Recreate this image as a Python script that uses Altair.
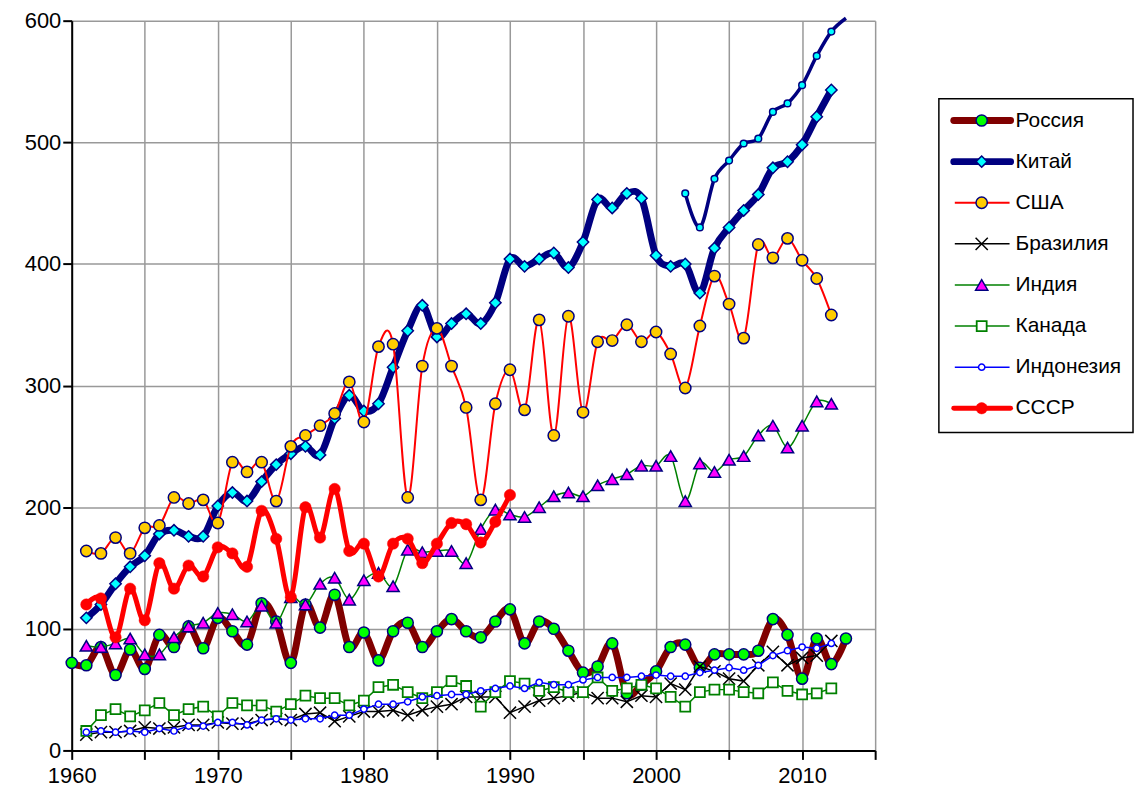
import altair as alt
import pandas as pd

# ---------------- data ----------------
years_russia = list(range(1960, 2014))
russia = [72, 70, 85, 62, 83, 67, 95, 85, 102, 84,
          109, 98, 87, 121, 106, 72, 120, 101, 128, 85,
          97, 74, 98, 105, 85, 98, 108, 98, 93, 106,
          116, 88, 106, 100, 82, 64, 69, 88, 47, 54,
          65, 85, 87, 68, 79, 79, 79, 82, 108, 95,
          59, 92, 71, 92]

years_main = list(range(1961, 2013))
china = [109, 120, 137, 151, 160, 178, 181, 176, 176,
         201, 212, 205, 221, 235, 244, 250, 243, 273, 292,
         279, 285, 315, 345, 366, 340, 351, 359, 351, 368,
         404, 398, 404, 409, 397, 418, 453, 446, 458, 454,
         407, 398, 400, 376, 413, 430, 444, 457, 479, 484,
         498, 521, 543]
usa = [164, 162, 175, 162, 183, 185, 208, 203, 206,
       187, 237, 229, 237, 205, 250, 259, 267, 277, 303,
       270, 332, 334, 208, 316, 347, 316, 282, 206, 285,
       313, 280, 354, 259, 357, 278, 336, 337, 350, 336,
       344, 326, 298, 349, 390, 367, 339, 416, 405, 421,
       403, 388, 358]
brazil = [13, 15, 15, 16, 19, 18, 19, 21, 21,
          23, 22, 22, 25, 26, 25, 30, 31, 24, 28,
          32, 32, 33, 29, 33, 36, 38, 44, 44, 44,
          31, 36, 41, 43, 45, 48, 43, 43, 40, 45,
          44, 55, 50, 69, 65, 59, 57, 70, 81, 70,
          76, 78, 90]
india = [86, 85, 88, 92, 79, 79, 93, 102, 105,
         113, 112, 106, 119, 105, 126, 120, 137, 142, 124,
         140, 146, 135, 165, 163, 164, 164, 154, 182, 198,
         194, 192, 200, 209, 212, 209, 218, 223, 227, 234,
         234, 242, 205, 236, 229, 239, 242, 259, 267, 249,
         267, 287, 285]
canada = [16, 29, 34, 28, 33, 39, 29, 34, 36,
          28, 39, 37, 37, 32, 38, 45, 43, 43, 37,
          41, 52, 54, 48, 43, 48, 57, 53, 36, 48,
          57, 55, 49, 52, 48, 48, 60, 49, 51, 54,
          51, 44, 36, 48, 50, 50, 48, 47, 56, 49,
          46, 47, 51]
indonesia = [15, 16, 15, 16, 15, 18, 16, 20, 20,
             23, 23, 21, 25, 26, 25, 26, 26, 29, 29,
             34, 38, 38, 40, 44, 45, 46, 46, 49, 51,
             53, 51, 56, 54, 54, 58, 60, 60, 60, 61,
             62, 61, 61, 64, 66, 68, 66, 70, 78, 82,
             85, 84, 88]

years_ussr = list(range(1961, 1991))
ussr = [120, 125, 93, 133, 107, 154, 133, 152, 143,
        167, 162, 151, 197, 174, 126, 200, 175, 215, 164,
        170, 143, 170, 174, 154, 170, 187, 186, 171, 188,
        210]

years_china2 = list(range(2002, 2014))
china2 = [458, 430, 470, 485, 499, 503, 525, 532, 547, 571, 591, 602]

series_names = ["Россия", "Китай", "США", "Бразилия", "Индия",
                "Канада", "Индонезия", "СССР"]
extra_name = "Китай (2)"

series_data = {
    "Россия": (years_russia, russia),
    "Китай": (years_main, china),
    "США": (years_main, usa),
    "Бразилия": (years_main, brazil),
    "Индия": (years_main, india),
    "Канада": (years_main, canada),
    "Индонезия": (years_main, indonesia),
    "СССР": (years_ussr, ussr),
    extra_name: (years_china2, china2),
}

rows = []
for name, (yrs, vals) in series_data.items():
    for y, v in zip(yrs, vals):
        rows.append({"series": name, "year": y, "value": v})
df = pd.DataFrame(rows)

Y_MAX = 600

# ---------------- styles ----------------
NAVY = "#000080"
X_PATH = "M-1,-1L1,1M-1,1L1,-1"
styles = {
    "Россия":    dict(lc="#800000", lw=7,   interp="cardinal", shape="circle", size=125, fill="#00ff00", stroke=NAVY, sw=1.5),
    "Китай":     dict(lc=NAVY,      lw=7,   interp="cardinal", shape="diamond", size=130, fill="#00ffff", stroke=NAVY, sw=1.5),
    "США":       dict(lc="#ff0000", lw=2,   interp="cardinal", shape="circle", size=130, fill="#ffcc00", stroke=NAVY, sw=1.5),
    "Бразилия":  dict(lc="#000000", lw=1.5, interp="linear",   shape=X_PATH,   size=150, fill=None,      stroke="#000000", sw=1.5),
    "Индия":     dict(lc="#008000", lw=1.5, interp="cardinal", shape="triangle-up", size=150, fill="#ff00ff", stroke=NAVY, sw=1.5),
    "Канада":    dict(lc="#008000", lw=1.5, interp="linear",   shape="square", size=100, fill="#ffffff", stroke="#008000", sw=1.8),
    "Индонезия": dict(lc="#0000ff", lw=1.5, interp="linear",   shape="circle", size=40,  fill="#ffffff", stroke="#0000ff", sw=1.5),
    "СССР":      dict(lc="#ff0000", lw=5,   interp="cardinal", shape="circle", size=130, fill="#ff0000", stroke="#ff0000", sw=0.5),
    extra_name:  dict(lc=NAVY,      lw=3.5, interp="cardinal", shape="circle", size=45,  fill="#00ffff", stroke=NAVY, sw=1.5),
}

FONT = "Liberation Sans"

X = alt.X("year:Q",
          scale=alt.Scale(domain=[1960, 2015], nice=False, zero=False),
          axis=alt.Axis(values=list(range(1960, 2016, 5)), format="d",
                        labelExpr="datum.value % 10 === 0 ? datum.label : ''",
                        title=None, labelOverlap=False, labelFlush=False,
                        labelPadding=6))
Y = alt.Y("value:Q",
          scale=alt.Scale(domain=[0, Y_MAX], nice=False, zero=True),
          axis=alt.Axis(values=list(range(0, 601, 100)), title=None,
                        labelOverlap=False, labelFlush=False, labelPadding=2))


def point_mark(st):
    kw = dict(shape=st["shape"], size=st["size"], stroke=st["stroke"],
              strokeWidth=st["sw"], opacity=1)
    if st["fill"] is None:
        kw["filled"] = False
        kw["fill"] = "transparent"
    else:
        kw["filled"] = True
        kw["fill"] = st["fill"]
    return kw


main_layers = []
for name in series_names + [extra_name]:
    st = styles[name]
    base = alt.Chart(df).transform_filter(alt.datum.series == name)
    main_layers.append(
        base.mark_line(color=st["lc"], strokeWidth=st["lw"],
                       interpolate=st["interp"]).encode(x=X, y=Y))
    # markers outside the plot area are not drawn (as in the original)
    main_layers.append(
        base.transform_filter(alt.datum.value <= Y_MAX)
        .mark_point(**point_mark(st)).encode(x=X, y=Y))
main = alt.layer(*main_layers)

# ---------------- legend (data-driven rows) ----------------
leg_df = pd.DataFrame({"series": series_names, "row": list(range(len(series_names)))})
LYS = alt.Scale(domain=[0, 7], range=[100.3, 389.3])
LY = alt.Y("row:Q", scale=LYS, axis=None)

legend_layers = [
    alt.Chart(pd.DataFrame({"k": [0]})).mark_rect(
        fill="white", stroke="black", strokeWidth=1.5).encode(
        x=alt.value(871), x2=alt.value(1066),
        y=alt.Y(datum=-0.53, type="quantitative", scale=LYS, axis=None),
        y2=alt.Y2(datum=7.59))
]
for name in series_names:
    st = styles[name]
    lb = alt.Chart(leg_df).transform_filter(alt.datum.series == name)
    thick = st["lw"] >= 5
    legend_layers.append(
        lb.mark_rule(color=st["lc"], strokeWidth=st["lw"],
                     strokeCap="round" if thick else "butt").encode(
            x=alt.value(886 if thick else 887), x2=alt.value(943 if thick else 942), y=LY))
    legend_layers.append(lb.mark_point(**point_mark(st)).encode(x=alt.value(914), y=LY))
legend_layers.append(
    alt.Chart(leg_df).mark_text(align="left", baseline="middle", font=FONT,
                                fontSize=21, color="black").encode(
        x=alt.value(948), y=LY, text="series:N"))
legend = alt.layer(*legend_layers)

chart = alt.layer(main, legend).resolve_scale(y="independent").properties(
    width=807, height=733,
    autosize=alt.AutoSizeParams(type="none"),
    padding={"left": 64, "top": 11, "right": 262, "bottom": 35},
).configure_axis(
    labelFont=FONT, labelFontSize=22, labelColor="black",
    domainColor="black", domainWidth=2,
    tickColor="black", tickWidth=2, tickSize=9,
    gridColor="#999999", gridWidth=1.5, gridOpacity=1,
).configure_view(stroke=None)

chart.save("out.html", embed_options={"renderer": "svg", "actions": False})
